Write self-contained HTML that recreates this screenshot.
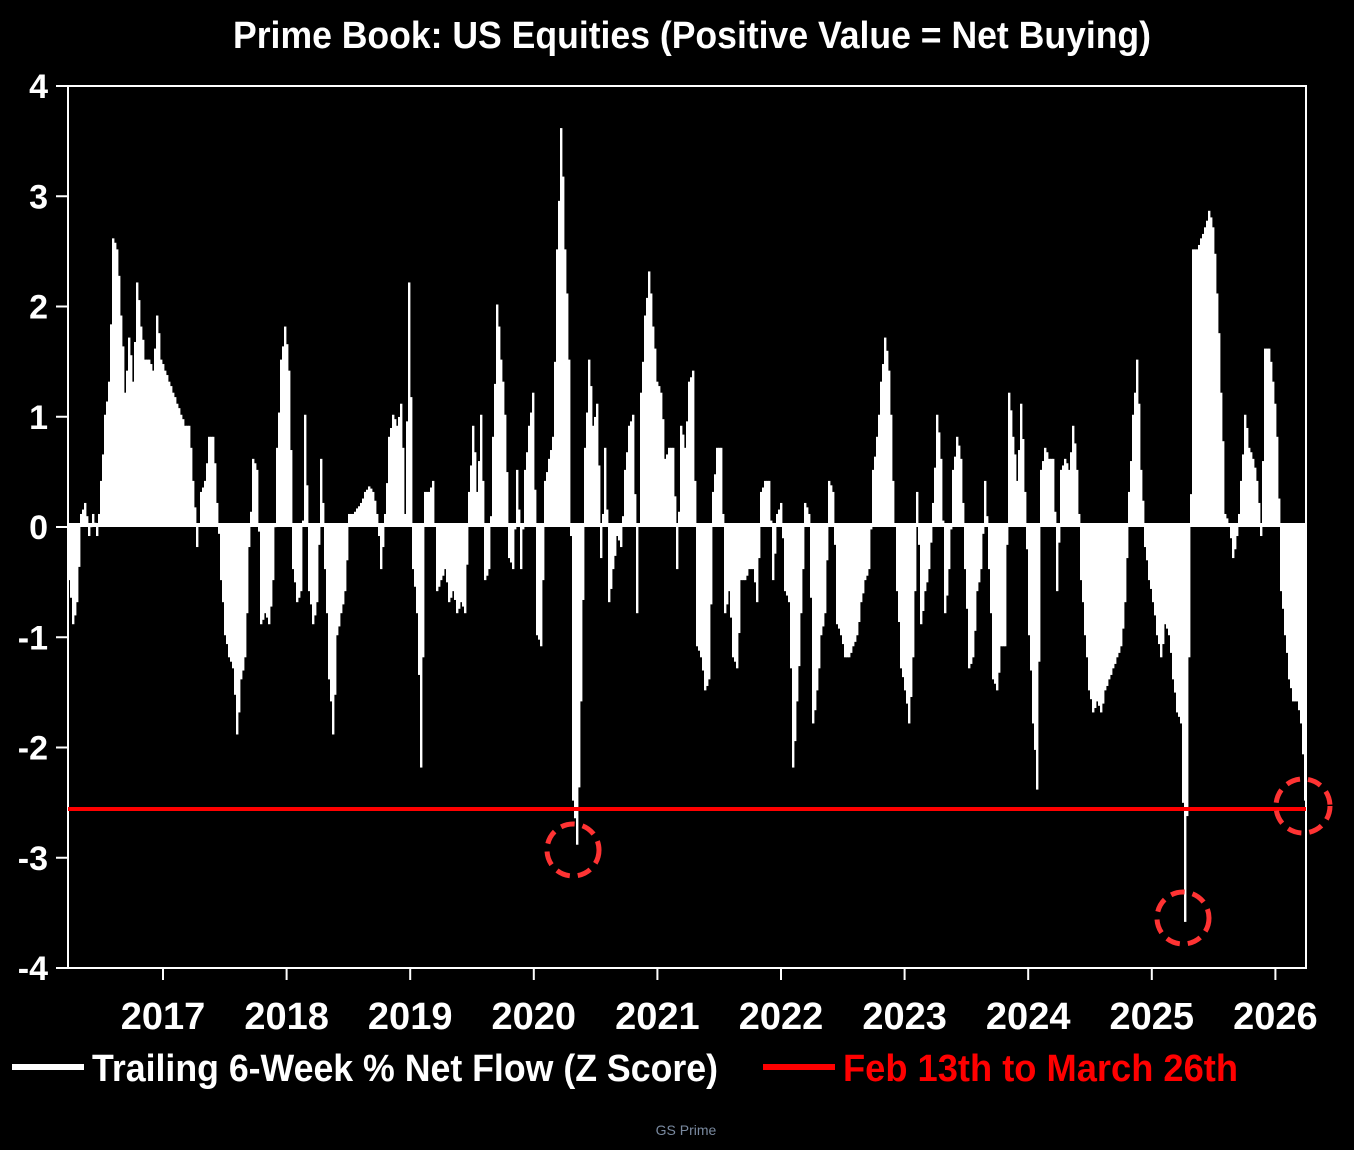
<!DOCTYPE html>
<html><head><meta charset="utf-8"><style>
html,body{margin:0;padding:0;background:#000;width:1354px;height:1150px;overflow:hidden}
svg{display:block}
.t{font-family:"Liberation Sans Narrow","Liberation Sans",sans-serif;font-weight:bold;fill:#fff}
</style></head><body>
<svg id="s" width="1354" height="1150" xmlns="http://www.w3.org/2000/svg">
<rect width="1354" height="1150" fill="#000"/>
<text class="t" x="692" y="48" font-size="38" text-anchor="middle" textLength="918" lengthAdjust="spacingAndGlyphs">Prime Book: US Equities (Positive Value = Net Buying)</text>
<rect x="68" y="86" width="1238" height="882" fill="none" stroke="#fff" stroke-width="2"/>
<g id="bars" fill="#fff"></g>
<line x1="68" y1="525" x2="1306" y2="525" stroke="#fff" stroke-width="4"/>
<line x1="68" y1="809" x2="1306" y2="809" stroke="#f00" stroke-width="4"/>
<g fill="none" stroke="#f33" stroke-width="5" stroke-dasharray="14,8">
<circle cx="573" cy="850" r="26"/>
<circle cx="1183" cy="918" r="26"/>
<circle cx="1303" cy="806" r="27"/>
</g>
<g class="t" font-size="34" text-anchor="end" id="yl"></g>
<g class="t" font-size="38" text-anchor="middle" id="xl"></g>
<line x1="12" y1="1067" x2="84" y2="1067" stroke="#fff" stroke-width="6"/>
<text class="t" x="92" y="1081" font-size="38" textLength="626" lengthAdjust="spacingAndGlyphs">Trailing 6-Week % Net Flow (Z Score)</text>
<line x1="763" y1="1067" x2="835" y2="1067" stroke="#f00" stroke-width="6"/>
<text class="t" x="843" y="1081" font-size="38" fill="#f00" style="fill:#f00" textLength="395" lengthAdjust="spacingAndGlyphs">Feb 13th to March 26th</text>
<text x="686" y="1135" font-family="Liberation Sans, sans-serif" font-size="14" fill="#7a8aa0" text-anchor="middle">GS Prime</text>
</svg>
<script>
var d=[-0.5,-0.9,-0.7,0.1,0.2,-0.1,0.1,-0.1,0.4,1.0,1.3,2.6,2.5,1.9,1.2,1.7,1.3,2.2,1.8,1.5,1.5,1.4,1.9,1.5,1.4,1.3,1.2,1.1,1.0,0.9,0.9,0.4,-0.2,0.3,0.4,0.8,0.8,0.2,-0.5,-1.0,-1.2,-1.3,-1.9,-1.4,-1.2,-0.2,0.6,0.5,-0.9,-0.8,-0.9,-0.5,0.7,1.5,1.8,1.4,-0.4,-0.7,-0.6,1.0,-0.6,-0.9,-0.7,0.6,-0.4,-1.4,-1.9,-1.0,-0.8,-0.6,0.1,0.1,0.15,0.2,0.3,0.35,0.3,0.1,-0.4,0.1,0.8,1.0,0.9,1.1,0.1,2.2,-0.4,-0.8,-2.2,0.3,0.3,0.4,-0.6,-0.5,-0.4,-0.7,-0.6,-0.8,-0.7,-0.8,0.3,0.9,0.3,1.0,-0.5,-0.4,0.8,2.0,1.5,1.0,-0.3,-0.4,0.5,-0.4,0.5,0.9,1.2,-1.0,-1.1,0.4,0.6,0.8,2.5,3.6,2.5,1.5,-2.5,-2.9,-1.6,0.7,1.5,0.9,1.1,-0.3,0.7,-0.7,-0.4,-0.1,-0.2,0.5,0.9,1.0,-0.8,1.2,1.9,2.3,1.8,1.3,1.2,0.6,0.7,0.7,-0.4,0.9,0.7,1.3,1.4,-1.1,-1.2,-1.5,-1.4,0.3,0.7,0.7,-0.8,-0.6,-1.2,-1.3,-0.5,-0.5,-0.4,-0.4,-0.7,0.3,0.4,0.4,-0.5,0.1,0.2,-0.6,-0.7,-2.2,-1.6,-0.8,0.2,0.1,-1.8,-1.5,-1.0,-0.8,0.4,0.3,-0.9,-1.0,-1.2,-1.2,-1.1,-1.0,-0.7,-0.5,-0.4,0.5,0.8,1.3,1.7,1.4,0.4,-0.6,-1.3,-1.5,-1.8,-1.2,0.3,-0.9,-0.6,-0.4,0.2,1.0,0.6,-0.8,-0.4,0.5,0.8,0.6,-0.4,-1.3,-1.2,-0.6,-0.4,0.4,-0.4,-1.4,-1.5,-1.1,-1.1,1.2,0.8,0.4,1.1,0.3,-1.0,-1.8,-2.4,0.5,0.7,0.6,0.6,-0.6,0.5,0.6,0.5,0.9,0.5,-0.5,-1.0,-1.5,-1.7,-1.6,-1.7,-1.5,-1.4,-1.3,-1.2,-1.1,-0.7,0.3,1.0,1.5,0.5,-0.2,-0.5,-0.7,-1.0,-1.2,-0.9,-1.0,-1.4,-1.7,-1.8,-3.6,-1.2,2.5,2.5,2.6,2.7,2.85,2.7,2.1,1.2,0.1,0.0,-0.3,-0.1,0.4,1.0,0.7,0.6,0.4,-0.1,1.6,1.6,1.3,0.8,-0.6,-1.0,-1.4,-1.6,-1.6,-1.8,-2.5];
var NS="http://www.w3.org/2000/svg",g=document.getElementById('bars'),z=525,u=110.25;
function v(i){return i<d.length?d[i]:d[d.length-1];}
for(var i=0;i<d.length;i++){
 // two sub-bars per step for more texture
 for(var k=0;k<2;k++){
  var val=k==0?d[i]:(d[i]*0.6+v(i+1)*0.4);
  var x=68+i*4+k*2; if(x>1304)continue;
  var r=document.createElementNS(NS,'rect');
  var h=Math.abs(val)*u,y=val>0?z-h:z;
  r.setAttribute('x',x);r.setAttribute('width',2.4);r.setAttribute('y',y);r.setAttribute('height',h);
  g.appendChild(r);
 }
}
var yl=document.getElementById('yl');
for(var t=4;t>=-4;t--){
 var y=86+(4-t)*u;
 var tx=document.createElementNS(NS,'text');tx.setAttribute('x',48);tx.setAttribute('y',y+12);tx.textContent=t;yl.appendChild(tx);
 var l=document.createElementNS(NS,'line');l.setAttribute('x1',56);l.setAttribute('x2',68);l.setAttribute('y1',y);l.setAttribute('y2',y);l.setAttribute('stroke','#fff');l.setAttribute('stroke-width',2);document.getElementById('s').appendChild(l);
}
var xl=document.getElementById('xl');
for(var yr=2017;yr<=2026;yr++){
 var x=163+(yr-2017)*123.6;
 var tx=document.createElementNS(NS,'text');tx.setAttribute('x',x);tx.setAttribute('y',1029);tx.textContent=yr;xl.appendChild(tx);
 var l=document.createElementNS(NS,'line');l.setAttribute('x1',x);l.setAttribute('x2',x);l.setAttribute('y1',968);l.setAttribute('y2',980);l.setAttribute('stroke','#fff');l.setAttribute('stroke-width',2);document.getElementById('s').appendChild(l);
}
</script>
</body></html>
